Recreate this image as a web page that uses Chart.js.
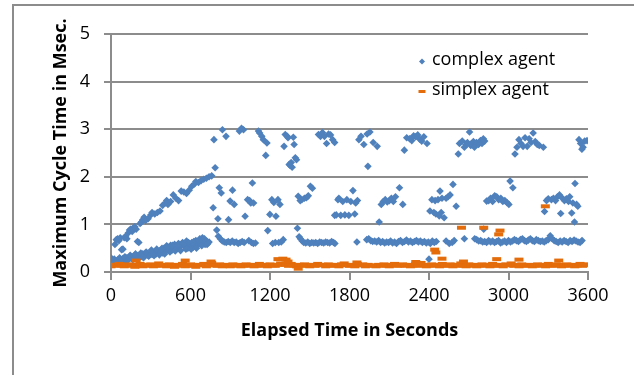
<!DOCTYPE html>
<html>
<head>
<meta charset="utf-8">
<script src="https://cdn.jsdelivr.net/npm/chart.js@4.4.0/dist/chart.umd.min.js"></script>
<style>
  html, body { margin: 0; padding: 0; background: #fff; overflow: hidden; }
  #caja { position: relative; width: 634px; height: 375px; }
  #marco { position: absolute; left: 12px; top: 4px; width: 700px; height: 500px; border: 2px solid #8c8c8c; }
  #grafica { position: absolute; left: 0; top: 0; }
</style>
</head>
<body>
<div id="caja">
  <div id="marco"></div>
  <canvas id="grafica" width="634" height="375"></canvas>
</div>
<script>
// Datos (tiempo en segundos, ciclo en ms)

// complex agent: rampa superior 0-760 s
const rampUpperTime = [30,40,50,60,70,80,90,100,110,120,130,140,150,160,170,180,190,200,210,220,230,240,250,260,280,300,310,330,350,370,390,410,420,430,450,470,490,510,530,550,570,590,610,630,640,660,680,700,720,740,760];
const rampUpperMs = [0.58,0.68,0.70,0.66,0.72,0.47,0.48,0.72,0.75,0.70,0.82,0.88,0.90,0.85,0.93,0.95,0.90,0.64,0.62,1.02,1.05,1.10,1.15,1.08,1.12,1.20,1.25,1.22,1.25,1.28,1.40,1.45,1.50,1.42,1.48,1.62,1.55,1.50,1.70,1.68,1.65,1.72,1.80,1.85,1.90,1.88,1.92,1.95,1.97,2.00,2.02];

// complex agent: rampa inferior 0-740 s
const rampLowerTime = [0,10,20,30,40,50,60,70,80,90,100,110,120,130,140,150,160,170,180,190,200,210,220,230,240,250,260,270,280,290,300,310,320,330,340,350,360,370,380,390,400,410,420,430,440,450,460,470,480,490,500,510,520,530,540,550,560,570,580,590,600,610,620,630,640,650,660,670,680,690,700,710,720,730,740];
const rampLowerMs = [0.30,0.22,0.20,0.24,0.22,0.25,0.23,0.26,0.24,0.28,0.27,0.25,0.30,0.28,0.32,0.30,0.27,0.33,0.35,0.31,0.34,0.30,0.36,0.33,0.38,0.32,0.36,0.40,0.35,0.39,0.42,0.37,0.40,0.43,0.38,0.45,0.41,0.44,0.47,0.40,0.50,0.45,0.55,0.48,0.52,0.56,0.46,0.53,0.58,0.50,0.55,0.60,0.52,0.57,0.62,0.55,0.58,0.65,0.50,0.60,0.55,0.62,0.52,0.58,0.66,0.55,0.62,0.70,0.68,0.72,0.62,0.58,0.65,0.60,0.63];
const rampLower2Time = [5,25,45,65,85,105,125,145,165,185,205,225,245,265,285,305,325,345,365,385,405,425,445,465,485,505,525,545,565,585,605,625,645,665,685,705,725];
const rampLower2Ms = [0.20,0.27,0.19,0.30,0.22,0.32,0.24,0.35,0.26,0.38,0.28,0.40,0.30,0.42,0.33,0.46,0.34,0.48,0.36,0.50,0.38,0.52,0.42,0.56,0.44,0.58,0.45,0.60,0.48,0.62,0.48,0.64,0.50,0.66,0.55,0.70,0.58];

// complex agent: grupo alto (2.2 - 3.0)
const highTime = [777,786,841,868,969,985,1000,1113,1122,1138,1150,1168,1177,1306,1315,1330,1336,1345,1352,1360,1367,1376,1382,1391,1400,1566,1581,1596,1611,1627,1642,1657,1673,1688,1871,1887,1908,1933,1939,1954,1979,2009,2214,2232,2254,2270,2284,2300,2315,2330,2345,2361,2385,2621,2630,2651,2667,2682,2690,2706,2715,2722,2735,2743,2758,2774,2789,2800,2810,2820,3049,3064,3079,3094,3110,3125,3141,3156,3170,3186,3202,3217,3232,3263,3532,3544,3554,3563,3575,3593];
const highMs = [2.78,2.19,2.99,2.85,2.96,3.02,2.99,2.96,2.92,2.85,2.78,2.45,2.71,2.64,2.89,2.85,2.82,2.26,2.24,2.30,2.20,2.83,2.68,2.40,2.36,2.89,2.85,2.93,2.85,2.70,2.90,2.88,2.78,2.72,2.78,2.85,2.68,2.90,2.22,2.94,2.72,2.64,2.56,2.82,2.80,2.76,2.86,2.84,2.88,2.79,2.75,2.84,2.70,2.48,2.70,2.75,2.62,2.68,2.72,2.94,2.66,2.70,2.74,2.62,2.72,2.68,2.76,2.70,2.80,2.75,2.48,2.62,2.78,2.70,2.64,2.82,2.64,2.80,2.72,2.92,2.74,2.68,2.66,2.62,2.78,2.70,2.58,2.62,2.75,2.76];

// complex agent: grupo medio (1.0 - 1.9)
const midTime = [771,807,817,832,887,899,917,930,1012,1031,1046,1055,1067,1076,1199,1214,1229,1245,1260,1275,1413,1428,1440,1460,1475,1489,1505,1520,1688,1700,1713,1720,1734,1749,1765,1780,1795,1810,1826,1840,1847,1860,2024,2040,2055,2070,2085,2101,2116,2131,2147,2177,2202,2407,2422,2437,2446,2452,2468,2477,2483,2492,2498,2514,2529,2544,2559,2581,2605,2835,2850,2865,2880,2896,2911,2926,2942,2957,2972,2988,3003,3012,3033,3272,3287,3300,3324,3339,3355,3370,3385,3394,3407,3422,3437,3453,3462,3477,3486,3498,3502,3514,3523];
const midMs = [1.35,1.12,1.77,1.66,1.10,1.49,1.72,1.42,1.17,1.52,1.50,1.45,1.87,1.45,1.21,1.52,1.46,1.17,1.52,1.42,1.59,1.50,1.52,1.55,1.56,1.60,1.80,1.76,1.19,1.20,1.52,1.55,1.19,1.48,1.20,1.52,1.19,1.48,1.71,1.22,1.45,1.50,1.05,1.42,1.48,1.52,1.47,1.50,1.55,1.48,1.58,1.77,1.42,1.28,1.52,1.25,1.50,1.22,1.52,1.18,1.70,1.25,1.55,1.14,1.55,1.58,1.62,1.84,1.38,1.49,1.50,1.55,1.48,1.60,1.58,1.52,1.55,1.48,1.50,1.46,1.42,1.91,1.77,1.27,1.50,1.54,1.52,1.55,1.50,1.58,1.62,1.23,1.55,1.50,1.54,1.48,1.58,1.24,1.45,1.05,1.86,1.42,1.38];

// complex agent: grupo bajo (0.6 - 0.7)
const lowTime = [798,810,825,840,855,870,885,900,915,930,945,960,975,990,1005,1040,1060,1075,1090,1183,1220,1240,1266,1285,1300,1407,1420,1430,1443,1455,1470,1485,1500,1515,1530,1545,1560,1575,1590,1605,1620,1635,1650,1665,1680,1690,1856,1930,1945,1960,1975,1990,2005,2020,2035,2050,2065,2080,2095,2110,2125,2140,2155,2170,2185,2200,2215,2230,2245,2260,2275,2290,2305,2320,2335,2350,2365,2380,2395,2400,2410,2425,2440,2455,2529,2553,2575,2590,2667,2745,2760,2775,2790,2805,2813,2820,2835,2850,2865,2880,2895,2910,2925,2940,2955,2970,2985,3000,3015,3030,3045,3060,3075,3090,3105,3120,3135,3150,3165,3180,3195,3210,3225,3240,3255,3270,3285,3300,3315,3330,3345,3360,3375,3390,3405,3420,3435,3450,3465,3480,3495,3510,3525,3540,3555];
const lowMs = [0.88,0.75,0.70,0.65,0.63,0.62,0.64,0.62,0.65,0.62,0.63,0.60,0.62,0.64,0.62,0.66,0.62,0.60,0.61,0.87,0.60,0.62,0.62,0.63,0.68,0.92,0.74,0.70,0.65,0.62,0.61,0.63,0.60,0.62,0.61,0.62,0.60,0.63,0.62,0.61,0.63,0.62,0.61,0.64,0.62,0.60,0.63,0.68,0.70,0.66,0.64,0.65,0.63,0.66,0.62,0.64,0.61,0.63,0.62,0.65,0.61,0.63,0.60,0.64,0.66,0.62,0.64,0.67,0.63,0.65,0.62,0.64,0.66,0.63,0.65,0.62,0.64,0.61,0.63,0.27,0.60,0.65,0.62,0.64,0.65,0.60,0.62,0.66,0.70,0.70,0.68,0.65,0.66,0.63,0.90,0.64,0.62,0.66,0.63,0.65,0.62,0.64,0.66,0.61,0.63,0.65,0.62,0.66,0.63,0.65,0.68,0.66,0.64,0.68,0.70,0.66,0.64,0.67,0.70,0.66,0.64,0.68,0.66,0.64,0.65,0.63,0.66,0.68,0.76,0.70,0.66,0.64,0.62,0.65,0.63,0.66,0.64,0.62,0.66,0.64,0.67,0.65,0.63,0.62,0.66];

// simplex agent: banda base
const simplexTime = [0,20,40,60,80,100,120,140,160,180,200,220,240,260,280,300,320,340,360,380,400,420,440,460,480,500,520,540,560,580,600,620,640,660,680,700,720,740,760,780,800,820,840,860,880,900,920,940,960,980,1000,1020,1040,1060,1080,1100,1120,1140,1160,1180,1200,1220,1240,1260,1280,1300,1320,1340,1360,1380,1400,1420,1440,1460,1480,1500,1520,1540,1560,1580,1600,1620,1640,1660,1680,1700,1720,1740,1760,1780,1800,1820,1840,1860,1880,1900,1920,1940,1960,1980,2000,2020,2040,2060,2080,2100,2120,2140,2160,2180,2200,2220,2240,2260,2280,2300,2320,2340,2360,2380,2400,2420,2440,2460,2480,2500,2520,2540,2560,2580,2600,2620,2640,2660,2680,2700,2720,2740,2760,2780,2800,2820,2840,2860,2880,2900,2920,2940,2960,2980,3000,3020,3040,3060,3080,3100,3120,3140,3160,3180,3200,3220,3240,3260,3280,3300,3320,3340,3360,3380,3400,3420,3440,3460,3480,3500,3520,3540,3560,3580,3600];
const simplexMs = [0.12,0.15,0.13,0.17,0.14,0.12,0.16,0.13,0.15,0.11,0.14,0.17,0.12,0.15,0.13,0.16,0.12,0.14,0.18,0.13,0.15,0.12,0.16,0.14,0.11,0.15,0.13,0.17,0.12,0.14,0.16,0.13,0.11,0.15,0.14,0.17,0.12,0.15,0.19,0.14,0.13,0.16,0.12,0.15,0.14,0.12,0.16,0.13,0.15,0.12,0.14,0.16,0.13,0.15,0.12,0.14,0.17,0.13,0.15,0.12,0.16,0.14,0.13,0.15,0.18,0.16,0.15,0.13,0.17,0.14,0.12,0.15,0.13,0.16,0.14,0.12,0.15,0.13,0.17,0.14,0.15,0.12,0.16,0.14,0.13,0.15,0.12,0.16,0.18,0.14,0.13,0.15,0.12,0.17,0.14,0.16,0.12,0.15,0.13,0.14,0.12,0.15,0.13,0.16,0.14,0.12,0.15,0.17,0.13,0.14,0.16,0.13,0.15,0.12,0.14,0.17,0.13,0.19,0.15,0.12,0.14,0.16,0.13,0.15,0.12,0.17,0.14,0.13,0.16,0.12,0.15,0.13,0.18,0.14,0.12,0.16,0.13,0.15,0.12,0.14,0.16,0.13,0.15,0.12,0.17,0.14,0.13,0.15,0.12,0.16,0.14,0.18,0.13,0.15,0.12,0.16,0.14,0.13,0.15,0.12,0.14,0.16,0.13,0.15,0.12,0.17,0.14,0.13,0.16,0.15,0.12,0.14,0.16,0.13,0.15,0.12,0.14,0.17,0.13,0.15,0.16];

// simplex agent: picos
const simplexPeakTime = [190,560,755,1260,1297,1321,1336,1413,1856,2300,2443,2452,2498,2645,2660,2813,2911,2926,2936,3079,3278,3379];
const simplexPeakMs = [0.24,0.24,0.22,0.27,0.28,0.26,0.22,0.07,0.20,0.21,0.47,0.41,0.28,0.93,0.22,0.93,0.27,0.79,0.87,0.26,1.38,0.24];

// ejes
const xTicks = [0, 600, 1200, 1800, 2400, 3000, 3600];
const yTicks = [0, 1, 2, 3, 4, 5];

const colorComplex = '#4f81bd';
const colorSimplex = '#e46c0a';
const gris = '#8c8c8c';

// Función para juntar tiempos y valores en puntos
function aPuntos(tiempos, valores) {
    return tiempos.map((t, i) => ({ x: t, y: valores[i] }));
}

const puntosComplex = [].concat(
    aPuntos(rampUpperTime, rampUpperMs),
    aPuntos(rampLowerTime, rampLowerMs),
    aPuntos(rampLower2Time, rampLower2Ms),
    aPuntos(highTime, highMs),
    aPuntos(midTime, midMs),
    aPuntos(lowTime, lowMs)
);
const puntosSimplex = [].concat(
    aPuntos(simplexTime, simplexMs),
    aPuntos(simplexPeakTime, simplexPeakMs)
);

// Leyenda dibujada dentro del area de la grafica
const leyenda = {
    id: 'leyenda',
    afterDraw(chart) {
        const ctx = chart.ctx;
        ctx.save();
        // rombo azul
        ctx.fillStyle = colorComplex;
        ctx.beginPath();
        ctx.moveTo(422, 58.5);
        ctx.lineTo(425, 61.5);
        ctx.lineTo(422, 64.5);
        ctx.lineTo(419, 61.5);
        ctx.closePath();
        ctx.fill();
        // guion naranja
        ctx.strokeStyle = colorSimplex;
        ctx.lineWidth = 3;
        ctx.beginPath();
        ctx.moveTo(418.5, 91.5);
        ctx.lineTo(425.5, 91.5);
        ctx.stroke();
        ctx.fillStyle = '#000';
        ctx.font = '18px "Open Sans"';
        ctx.textBaseline = 'middle';
        ctx.textAlign = 'left';
        ctx.fillText(chart.data.datasets[0].label, 432, 60);
        ctx.fillText(chart.data.datasets[1].label, 432, 90);
        ctx.restore();
    }
};

function crearGrafica() {
    const ctx = document.getElementById('grafica').getContext('2d');
    new Chart(ctx, {
        type: 'scatter',
        data: {
            datasets: [{
                label: 'complex agent',
                data: puntosComplex,
                pointStyle: 'rectRot',
                pointRadius: 3.8,
                borderWidth: 0,
                backgroundColor: colorComplex,
                borderColor: colorComplex,
                order: 2
            }, {
                label: 'simplex agent',
                data: puntosSimplex,
                pointStyle: 'line',
                pointRadius: 4.5,
                borderWidth: 4,
                backgroundColor: colorSimplex,
                borderColor: colorSimplex,
                order: 1
            }]
        },
        options: {
            responsive: false,
            animation: false,
            devicePixelRatio: 1,
            layout: { padding: { left: 46, top: 34, right: 46, bottom: 29 } },
            plugins: {
                legend: { display: false },
                tooltip: { enabled: false }
            },
            scales: {
                x: {
                    type: 'linear',
                    min: 0,
                    max: 3600,
                    afterBuildTicks: s => { s.ticks = xTicks.map(v => ({ value: v })); },
                    afterFit: s => { s.height = 74; },
                    grid: { drawOnChartArea: false, drawTicks: true, tickLength: 8, color: gris, lineWidth: 2 },
                    border: { display: true, color: gris, width: 2 },
                    ticks: { color: '#000', padding: 5, font: { family: 'Open Sans', size: 18 }, maxRotation: 0, callback: v => String(v) },
                    title: { display: true, text: 'Elapsed Time in Seconds', color: '#000', font: { family: 'Open Sans', size: 18, weight: 'bold' } }
                },
                y: {
                    type: 'linear',
                    min: 0,
                    max: 5,
                    afterBuildTicks: s => { s.ticks = yTicks.map(v => ({ value: v })); },
                    afterFit: s => { s.width = 65; },
                    grid: { drawTicks: true, tickLength: 7, color: gris, lineWidth: 2 },
                    border: { display: true, color: gris, width: 2 },
                    ticks: { color: '#000', padding: 14, font: { family: 'Open Sans', size: 18 }, callback: v => String(v) },
                    title: { display: true, text: 'Maximum Cycle Time in Msec.', color: '#000', font: { family: 'Open Sans', size: 18, weight: 'bold' } }
                }
            }
        },
        plugins: [leyenda]
    });
}

document.addEventListener('DOMContentLoaded', () => {
    crearGrafica();
});
</script>
</body>
</html>
